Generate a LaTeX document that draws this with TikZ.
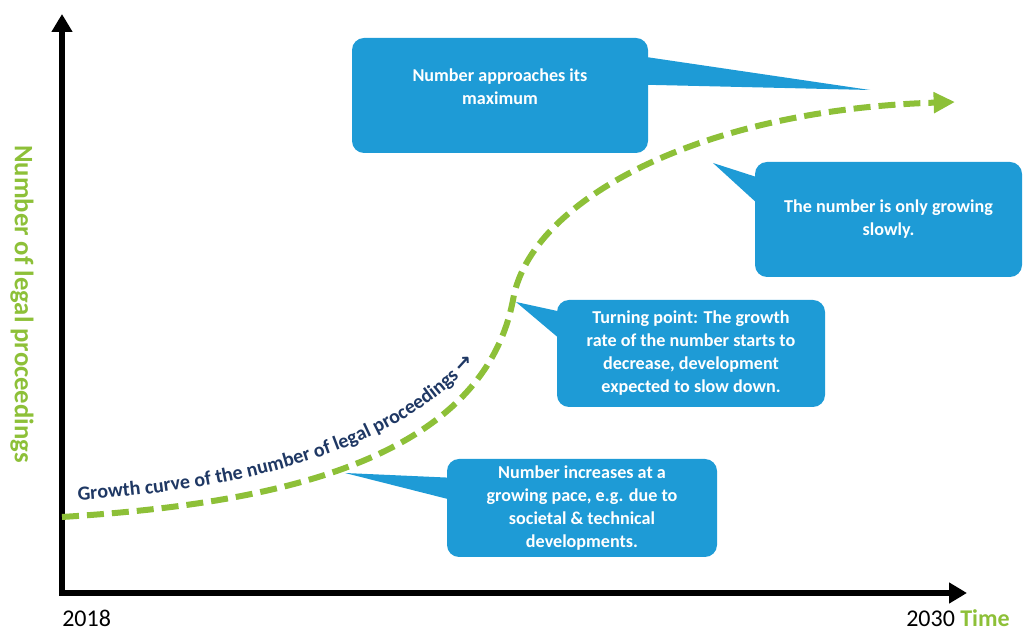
\documentclass[tikz,border=0pt]{standalone}
\usepackage{fontspec}
\setmainfont{Carlito}
\newfontfamily\arrowfont{DejaVu Sans}
\usetikzlibrary{arrows.meta}
\usetikzlibrary{calc}
\usetikzlibrary{decorations.text}

\definecolor{boxblue}{RGB}{30,155,214}
\definecolor{curvegreen}{RGB}{141,192,56}
\definecolor{labelnavy}{RGB}{31,56,100}
\newcommand\curvefont{\fontsize{15}{17}\selectfont\bfseries\color{labelnavy}}

\tikzset{
  axis/.style={line width=4.5pt, {Triangle[length=13.5pt,width=15pt]}-{Triangle[length=13.5pt,width=15pt]}},
  growth/.style={curvegreen, line width=4.5pt, dash pattern=on 12.75pt off 6pt, -{Triangle[length=16pt,width=15pt]}},
  callout/.style={fill=boxblue, rounded corners=9pt, text=white, align=center, inner sep=0pt,
    font=\fontsize{13.6}{17.25}\selectfont\bfseries},
  pointer/.style={fill=boxblue},
  yearlabel/.style={inner sep=0pt, text height=12pt, text depth=0pt, font=\fontsize{18}{20}\selectfont},
}

\begin{document}
\begin{tikzpicture}[x=0.75pt,y=-0.75pt]
\useasboundingbox (0,0) rectangle (1026,630);

%Shape: Axis 2D
\coordinate (origin) at (62,593);
\coordinate (ytip) at (62,14);
\coordinate (xtip) at (967,593);
\draw[axis] (ytip) |- (xtip);

%Shape: Callout boxes
\node[callout, minimum width=222pt, minimum height=86.25pt] (b1) at (500,95.5) {Number approaches its\\maximum\\[-4pt]};
\node[callout, minimum width=200.25pt, minimum height=86.25pt] (b2) at (888.5,219.5) {The number is only growing\\slowly.};
\node[callout, minimum width=201pt, minimum height=80.25pt] (b3) at (691,353.5) {Turning point: The growth\\rate of the number starts to\\decrease, development\\expected to slow down.};
\node[callout, minimum width=202.5pt, minimum height=73.5pt] (b4) at (582,508) {Number increases at a\\growing pace, e.g. due to\\societal \& technical\\developments.};

%Shape: Pointers
\coordinate (tip1) at (870,90);
\coordinate (tip2) at (713,163);
\coordinate (tip3) at (516,302);
\coordinate (tip4) at (345,473);
\fill[pointer] ($(b1.north east)+(-4,19)$) -- (tip1) -- ($(b1.north east)+(-4,47)$) -- cycle;
\fill[pointer] ($(b2.north west)+(4,16)$) -- (tip2) -- ($(b2.north west)+(4,43)$) -- cycle;
\fill[pointer] ($(b3.north west)+(4,12)$) -- (tip3) -- ($(b3.north west)+(4,40)$) -- cycle;
\fill[pointer] ($(b4.north west)+(4,19)$) -- (tip4) -- ($(b4.north west)+(4,41)$) -- cycle;

%Curve: growth
\coordinate (start) at (62,517);
\coordinate (turn) at (513,300);
\coordinate (end) at (955,102);
\draw[growth] (start) .. controls (250,505) and (480,470) .. (turn) .. controls (530,200) and (700,110) .. (end);
\path[decorate, decoration={text along path, text={|\curvefont|Growth curve of the number of legal proceedings {\arrowfont →}}}] (78,500) .. controls (250,490) and (430,445) .. (496,330);

% Text Node
\node[yearlabel, anchor=base west] (first) at (62,627) {2018};
% Text Node
\node[yearlabel, anchor=base east] (last) at (1010,627) {2030 \textcolor{curvegreen}{\bfseries Time}};
% Text Node
\node[rotate=-90, inner sep=0pt, text=curvegreen, font=\fontsize{20}{22}\selectfont\bfseries] (ylab) at (22,304) {Number of legal proceedings};

\end{tikzpicture}
\end{document}
